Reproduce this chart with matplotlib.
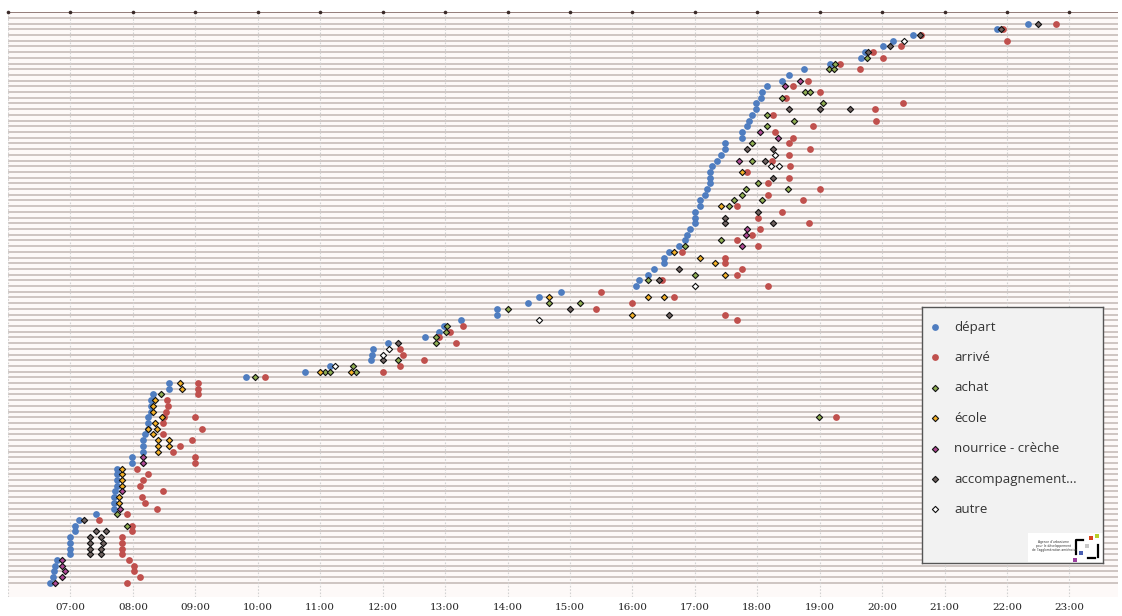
import numpy as np
import matplotlib
matplotlib.use("Agg")
import matplotlib.pyplot as plt
from matplotlib.patches import Rectangle

# departure hour for every person row (row 0 = bottom)
depart = [6.68, 6.72, 6.74, 6.76, 6.79, 6.99, 6.99, 6.99, 6.99, 7.07,
          7.07, 7.13, 7.41, 7.70, 7.70, 7.70, 7.72, 7.74, 7.74, 7.74,
          7.74, 7.99, 7.99, 8.16, 8.16, 8.16, 8.20, 8.24, 8.24, 8.25,
          8.29, 8.29, 8.29, 8.32, 8.58, 8.58, 9.81, 10.75, 11.16, 11.81,
          11.83, 11.85, 12.08, 12.68, 12.91, 12.99, 13.25, 13.83, 13.83, 14.33,
          14.50, 14.85, 16.06, 16.11, 16.25, 16.34, 16.51, 16.51, 16.58, 16.75,
          16.84, 16.88, 16.93, 17.00, 17.00, 17.00, 17.08, 17.08, 17.16, 17.19,
          17.24, 17.24, 17.24, 17.28, 17.36, 17.42, 17.49, 17.49, 17.75, 17.75,
          17.84, 17.87, 17.92, 17.98, 17.98, 18.06, 18.08, 18.16, 18.40, 18.51,
          18.75, 19.17, 19.66, 19.73, 20.01, 20.18, 20.50, 21.84, 22.33]

# (row, hour)
arrive = [(0, 7.91), (1, 8.11), (2, 8.01), (3, 8.01), (4, 7.94), (5, 7.83), (6, 7.83),
          (7, 7.83), (8, 7.83), (9, 7.99), (10, 7.99), (11, 7.46), (12, 7.91), (13, 8.38),
          (14, 8.19), (15, 8.15), (16, 8.49), (17, 8.11), (18, 8.16), (19, 8.25), (20, 8.07),
          (21, 8.99), (22, 8.99), (23, 8.65), (24, 8.75), (25, 8.94), (26, 8.49), (27, 9.11),
          (28, 8.49), (29, 8.50), (29, 9.00), (29, 19.26), (30, 8.53), (31, 8.56), (32, 8.55),
          (33, 9.04), (34, 9.04), (35, 9.04), (36, 10.11), (37, 12.00), (38, 12.28), (39, 12.67),
          (40, 12.33), (41, 12.28), (42, 13.17), (43, 12.90), (44, 13.08), (45, 13.28), (46, 17.67),
          (47, 17.49), (48, 15.41), (49, 15.99), (50, 16.67), (51, 15.50), (52, 18.17), (53, 16.47),
          (54, 17.67), (55, 17.76), (56, 17.49), (57, 17.49), (58, 16.80), (59, 18.01), (60, 17.67),
          (61, 17.92), (62, 18.05), (63, 18.83), (64, 18.01), (65, 18.40), (66, 17.67), (67, 18.73),
          (68, 18.17), (69, 19.00), (70, 18.17), (71, 18.51), (72, 17.84), (73, 18.53), (74, 18.24),
          (75, 18.51), (76, 18.84), (77, 18.51), (78, 18.57), (79, 18.28), (80, 18.89), (81, 19.90),
          (82, 18.25), (83, 19.88), (84, 20.33), (85, 18.46), (86, 19.00), (87, 18.57), (88, 18.82),
          (90, 19.64), (91, 19.33), (92, 20.01), (93, 19.85), (94, 20.30), (95, 22.00), (96, 20.62),
          (97, 21.94), (98, 22.79)]

achat = [(10, 7.91), (12, 7.75), (33, 8.45), (29, 18.99), (36, 9.96), (37, 11.08), (37, 11.16),
         (37, 11.58), (38, 11.53), (39, 12.25), (42, 12.85), (43, 12.85), (44, 13.01), (45, 13.03),
         (48, 14.00), (49, 14.66), (49, 15.16), (53, 16.25), (54, 17.00), (59, 16.84), (60, 17.42),
         (66, 17.55), (67, 17.63), (67, 18.07), (68, 17.76), (69, 17.82), (69, 18.49), (70, 18.01),
         (74, 17.92), (77, 17.92), (80, 18.16), (81, 18.59), (82, 18.15), (84, 19.06), (85, 18.40),
         (86, 18.76), (86, 18.84), (90, 19.15), (90, 19.23), (91, 19.25), (92, 19.76)]

ecole = [(14, 7.77), (15, 7.77), (17, 7.83), (18, 7.83), (19, 7.83), (20, 7.83), (23, 8.41),
         (24, 8.41), (24, 8.58), (25, 8.41), (25, 8.58), (26, 8.32), (27, 8.25), (27, 8.39),
         (28, 8.36), (29, 8.47), (30, 8.32), (31, 8.32), (32, 8.36), (34, 8.78), (35, 8.75),
         (37, 10.99), (37, 11.49), (47, 15.99), (50, 14.66), (50, 16.25), (50, 16.51), (54, 17.49),
         (56, 17.33), (57, 17.08), (58, 16.67), (66, 17.42), (72, 17.76)]

nourrice = [(0, 6.76), (1, 6.86), (2, 6.91), (3, 6.86), (4, 6.87), (13, 7.79), (16, 7.83),
            (21, 8.16), (22, 8.16), (59, 17.76), (61, 17.82), (62, 17.84), (74, 17.71),
            (78, 18.33), (79, 18.04), (87, 18.44), (88, 18.69)]

accomp = [(5, 7.32), (5, 7.49), (6, 7.32), (6, 7.49), (7, 7.32), (7, 7.52), (8, 7.32), (8, 7.49),
          (9, 7.41), (9, 7.57), (11, 7.21), (39, 12.00), (42, 12.25), (47, 16.58), (48, 15.00),
          (53, 16.42), (55, 16.75), (63, 17.49), (63, 18.25), (64, 17.49), (65, 18.01), (71, 18.25),
          (74, 18.12), (76, 17.84), (76, 18.25), (83, 18.51), (83, 19.01), (83, 19.48), (93, 19.78),
          (94, 20.13), (96, 20.60), (97, 21.90), (98, 22.49)]

autre = [(38, 11.23), (40, 12.00), (41, 12.10), (46, 14.50), (52, 17.00), (73, 18.22),
         (73, 18.35), (75, 18.29), (95, 20.35)]

hours = list(range(7, 24))
hour_labels = ["%02d:00" % h for h in hours]

legend_labels = ["départ", "arrivé", "achat", "école", "nourrice - crèche",
                 "accompagnement...", "autre"]

c_blue = "#4f7dc0"
c_red = "#c0504d"
c_green = "#8fae52"
c_orange = "#f5b128"
c_pink = "#b04a96"
c_dark = "#6f6260"
c_white = "#ffffff"

fig = plt.figure(figsize=(11.22, 6.16), dpi=100)
ax = fig.add_axes([8 / 1122, 1 - 597 / 616, 1110 / 1122, (597 - 12.2) / 616])
ax.set_facecolor("#fdf9f8")

ax.set_xlim(6, 6 + 1110 / 62.44)
ax.set_ylim(-2.5, 100)

# rows
for r in range(100):
    ax.axhline(r, color="#c6bcb9", lw=1.2, zorder=1)
ax.axhline(100, color="#8c7470", lw=1.3, zorder=2)
for h in range(6, 24):
    ax.axvline(h, color="#d2d2d2", lw=0.8, ls=(0, (1.5, 1.5)), zorder=1.5)
ax.plot(range(6, 24), [100] * 18, ls="none", marker="o", ms=2.6, mew=0,
        color="#3a2a28", zorder=3, clip_on=False)

r_dep = np.arange(len(depart))
ax.scatter(depart, r_dep, s=24, color=c_blue, zorder=4, lw=0)
arr = np.array(arrive)
ax.scatter(arr[:, 1], arr[:, 0], s=24, color=c_red, zorder=4, lw=0)

diamonds = [(achat, c_green), (ecole, c_orange), (nourrice, c_pink),
            (accomp, c_dark), (autre, c_white)]
for pts, col in diamonds:
    p = np.array(pts)
    ax.scatter(p[:, 1], p[:, 0], s=10, marker="D", facecolor=col,
               edgecolor="#111111", lw=0.8, zorder=5)

ax.set_xticks(hours)
ax.set_xticklabels(hour_labels, family="DejaVu Serif", fontsize=7.5, color="#222222")
ax.tick_params(axis="x", length=0, pad=4)
ax.set_yticks([])
for s in ax.spines.values():
    s.set_visible(False)

# legend box
lg = fig.add_axes([922 / 1122, 1 - 563 / 616, 181 / 1122, 256 / 616])
lg.set_facecolor("#f2f2f2")
lg.set_xlim(0, 181)
lg.set_ylim(256, 0)
lg.set_xticks([])
lg.set_yticks([])
for s in lg.spines.values():
    s.set_color("#555555")
    s.set_linewidth(1)
styles = [("o", c_blue, 24), ("o", c_red, 24), ("D", c_green, 10), ("D", c_orange, 10),
          ("D", c_pink, 10), ("D", c_dark, 10), ("D", c_white, 10)]
for i, (lab, (mk, col, sz)) in enumerate(zip(legend_labels, styles)):
    y = 20 + i * 30.4
    if mk == "o":
        lg.scatter(13, y, s=sz, color=col, lw=0)
    else:
        lg.scatter(13, y, s=sz, marker=mk, facecolor=col, edgecolor="#111111", lw=0.8)
    lg.text(32, y, lab, fontsize=9.5, family="Open Sans", color="#333333", va="center")

# logo
lg.add_patch(Rectangle((106, 226), 75, 29, facecolor="white", edgecolor="none"))
lg.text(132, 239, "Agence d'urbanisme\npour le développement\nde l'agglomération amiénoise",
        fontsize=2.2, ha="center", va="center", color="#333333", linespacing=1.1)
lg.plot([154, 154, 161], [247, 233, 233], color="black", lw=1.6)
lg.plot([166, 173], [251, 251], color="black", lw=1.6)
lg.plot([176, 176], [238, 250], color="black", lw=1.6)
for (xx, yy, cc) in [(175, 229, "#b7cf2a"), (169, 231, "#d9441e"), (159, 246, "#4a5fb3"),
                     (153, 253, "#9b3e9e"), (165, 239, "#c8c8c8")]:
    lg.add_patch(Rectangle((xx - 2, yy - 2), 4, 4, facecolor=cc, edgecolor="none"))

fig.savefig("out.png", dpi=100, facecolor="white")
